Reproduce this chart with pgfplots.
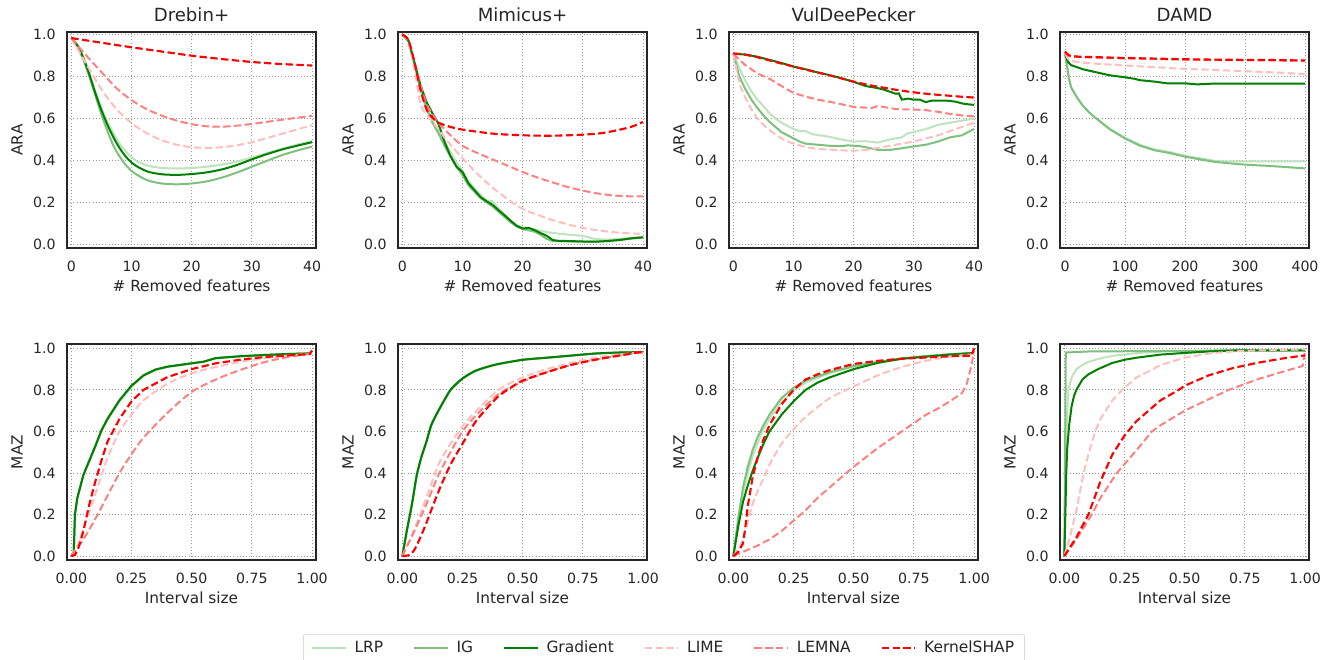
\documentclass[border=0pt]{standalone}
\usepackage{fontspec}
\setmainfont{DejaVu Sans}
\usepackage{pgfplots}
\pgfplotsset{compat=1.18}
\usepgfplotslibrary{groupplots}

\definecolor{cLRP}{RGB}{191,227,191}
\definecolor{cIG}{RGB}{125,193,125}
\definecolor{cGrad}{RGB}{0,128,0}
\definecolor{cLIME}{RGB}{255,191,191}
\definecolor{cLEMNA}{RGB}{255,128,128}
\definecolor{cSHAP}{RGB}{255,0,0}
\definecolor{txt}{RGB}{38,38,38}

\pgfplotsset{
  base/.style={
    scale only axis, width=186.75pt, height=162pt,
    axis line style={txt, line width=1pt},
    grid=major, major grid style={gray!80, dotted, line width=0.7pt},
    major tick length=0pt,
    tick label style={font=\fontsize{10.6}{12}\selectfont, text=txt},
    label style={font=\fontsize{11.5}{13}\selectfont, text=txt},
    title style={font=\fontsize{13.6}{15}\selectfont, text=txt,
      at={(axis description cs:0.5,1)}, anchor=center, yshift=6.75pt},
    /pgf/number format/assume math mode=true,
    xticklabel style={yshift=-6pt}, yticklabel style={xshift=-5pt},
    x label style={at={(axis description cs:0.5,-0.176)}, anchor=center},
    y label style={at={(axis description cs:-0.2008,0.5)}, anchor=center},
    ytick={0,0.2,0.4,0.6,0.8,1},
    yticklabel style={/pgf/number format/.cd, fixed, fixed zerofill, precision=1},
  },
  ara/.style={base, xlabel={\# Removed features}, ylabel={ARA},
    xmin=-0.72, xmax=40.66, ymin=-0.018, ymax=1.013, xtick={0,10,20,30,40}},
  maz/.style={base, xlabel={Interval size}, ylabel={MAZ},
    xmin=-0.018, xmax=1.0166, ymin=-0.019, ymax=1.021,
    xtick={0,0.25,0.5,0.75,1},
    xticklabel style={/pgf/number format/.cd, fixed, fixed zerofill, precision=2}},
  sLRP/.style={color=cLRP, line width=1.5pt},
  sIG/.style={color=cIG, line width=1.5pt},
  sGrad/.style={color=cGrad, line width=1.5pt},
  sLIME/.style={color=cLIME, line width=1.5pt, dash pattern=on 5.5pt off 2.6pt},
  sLEMNA/.style={color=cLEMNA, line width=1.5pt, dash pattern=on 5.5pt off 2.6pt},
  sSHAP/.style={color=cSHAP, line width=1.6pt, dash pattern=on 5.5pt off 2.6pt},
}

\begin{document}
\begin{tikzpicture}
\begin{groupplot}[group style={group size=4 by 2, horizontal sep=61.5pt, vertical sep=72pt}]

% ---------- row 1: ARA ----------
\nextgroupplot[ara, title={Drebin+}]
\addplot[sLRP, smooth] coordinates {(0,0.984)(1,0.95)(2,0.89)(3,0.815)(4,0.73)(5,0.65)(6,0.585)(7,0.53)(8,0.48)(9,0.445)(10,0.415)(11,0.395)(12,0.382)(13,0.373)(15,0.364)(17.5,0.362)(20,0.364)(22.5,0.37)(25,0.38)(27.5,0.395)(30,0.413)(32.5,0.435)(35,0.455)(37.5,0.475)(40,0.492)};
\addplot[sIG, smooth] coordinates {(0,0.984)(1,0.945)(2,0.88)(3,0.8)(4,0.71)(5,0.62)(6,0.54)(7,0.47)(8,0.42)(9,0.38)(10,0.35)(11,0.33)(12,0.314)(13,0.302)(15,0.29)(17.5,0.286)(20,0.29)(22.5,0.3)(25,0.318)(27.5,0.342)(30,0.37)(32.5,0.398)(35,0.425)(37.5,0.447)(40,0.466)};
\addplot[sGrad, smooth] coordinates {(0,0.984)(1,0.95)(2,0.89)(3,0.81)(4,0.72)(5,0.64)(6,0.57)(7,0.51)(8,0.46)(9,0.42)(10,0.39)(11,0.37)(12,0.355)(13,0.344)(15,0.334)(17.5,0.331)(20,0.335)(22.5,0.343)(25,0.357)(27.5,0.378)(30,0.405)(32.5,0.43)(35,0.452)(37.5,0.47)(40,0.487)};
\addplot[sLIME, smooth] coordinates {(0,0.984)(2.5,0.86)(5,0.74)(7.5,0.645)(10,0.578)(12.5,0.53)(15,0.497)(17.5,0.475)(20,0.463)(22.5,0.46)(25,0.463)(27.5,0.472)(30,0.487)(35,0.527)(40,0.568)};
\addplot[sLEMNA, smooth] coordinates {(0,0.984)(2.5,0.9)(5,0.822)(7.5,0.745)(10,0.688)(12.5,0.645)(15,0.614)(17.5,0.59)(20,0.573)(22.5,0.563)(25,0.561)(27.5,0.566)(30,0.574)(35,0.594)(40,0.613)};
\addplot[sSHAP, smooth] coordinates {(0,0.984)(5,0.962)(10,0.940)(15,0.920)(20,0.900)(25,0.884)(30,0.870)(35,0.860)(40,0.853)};

\nextgroupplot[ara, title={Mimicus+}]
\addplot[sLRP] coordinates {(0,1.0)(1,0.97)(2,0.86)(3,0.75)(4,0.66)(5,0.59)(6,0.54)(7,0.49)(8,0.44)(9,0.39)(10,0.35)(11,0.3)(12,0.265)(13,0.235)(14,0.21)(15,0.205)(16,0.17)(17,0.14)(18,0.11)(19,0.09)(20,0.08)(22,0.07)(24,0.058)(26,0.05)(28,0.045)(30,0.04)(32,0.025)(34,0.022)(36,0.025)(38,0.03)(40,0.035)};
\addplot[sIG] coordinates {(0,1.0)(1,0.97)(2,0.86)(3,0.74)(4,0.65)(5,0.58)(6,0.53)(7,0.47)(8,0.42)(9,0.37)(10,0.33)(11,0.28)(12,0.25)(13,0.22)(14,0.2)(15,0.18)(16,0.155)(17,0.13)(18,0.105)(19,0.085)(20,0.072)(22,0.06)(23,0.045)(24,0.025)(25,0.015)(28,0.013)(30,0.012)(32,0.012)(34,0.015)(36,0.02)(38,0.027)(40,0.032)};
\addplot[sGrad] coordinates {(0,1.0)(1,0.975)(2,0.87)(3,0.76)(4,0.68)(5,0.625)(6,0.575)(7,0.49)(8,0.42)(9,0.37)(10,0.345)(11,0.29)(12,0.258)(13,0.225)(14,0.205)(15,0.188)(16,0.162)(17,0.138)(18,0.112)(19,0.088)(20,0.075)(21,0.078)(22,0.067)(23,0.053)(24,0.04)(25,0.02)(26,0.016)(28,0.015)(30,0.013)(32,0.012)(34,0.015)(36,0.02)(38,0.028)(40,0.033)};
\addplot[sLIME, smooth] coordinates {(0,1.0)(1,0.97)(2,0.84)(3,0.67)(4,0.62)(5,0.585)(6,0.55)(7,0.51)(8,0.475)(10,0.41)(12.5,0.335)(15,0.27)(17.5,0.215)(20,0.168)(22.5,0.14)(25,0.115)(27.5,0.095)(30,0.078)(32.5,0.066)(35,0.058)(37.5,0.052)(40,0.05)};
\addplot[sLEMNA, smooth] coordinates {(0,1.0)(1,0.97)(2,0.87)(3,0.76)(4,0.67)(5,0.62)(6,0.58)(8,0.52)(10,0.47)(12.5,0.435)(15,0.405)(17.5,0.375)(20,0.345)(22.5,0.318)(25,0.295)(27.5,0.273)(30,0.256)(32.5,0.242)(35,0.233)(37.5,0.229)(40,0.229)};
\addplot[sSHAP, smooth] coordinates {(0,1.0)(1,0.975)(2,0.87)(3,0.74)(4,0.645)(5,0.605)(6,0.58)(8,0.56)(10,0.547)(15,0.528)(20,0.52)(25,0.518)(30,0.523)(33,0.53)(35,0.54)(38,0.56)(40,0.584)};

\nextgroupplot[ara, title={VulDeePecker}]
\addplot[sLRP] coordinates {(0,0.91)(1,0.84)(2,0.78)(3,0.73)(4,0.69)(5,0.66)(6,0.625)(7,0.6)(8,0.58)(9,0.565)(10,0.55)(11,0.54)(12,0.54)(13,0.527)(14,0.52)(15,0.518)(16,0.512)(18,0.5)(20,0.49)(22,0.492)(24,0.485)(26,0.5)(28,0.51)(29,0.53)(30,0.535)(32,0.55)(34,0.57)(36,0.58)(38,0.59)(40,0.60)};
\addplot[sIG] coordinates {(0,0.91)(1,0.8)(2,0.74)(3,0.69)(4,0.65)(5,0.615)(6,0.585)(7,0.56)(8,0.535)(9,0.52)(10,0.505)(11,0.49)(12,0.48)(14,0.475)(16,0.47)(18,0.468)(19,0.472)(21,0.468)(22,0.463)(24,0.45)(26,0.45)(28,0.458)(30,0.467)(32,0.475)(34,0.49)(36,0.51)(37,0.515)(38,0.52)(39,0.535)(40,0.55)};
\addplot[sGrad] coordinates {(0,0.91)(2,0.905)(4,0.895)(6,0.88)(8,0.865)(10,0.848)(12,0.835)(14,0.82)(16,0.807)(18,0.792)(20,0.775)(21,0.765)(22,0.755)(23,0.75)(24,0.745)(25,0.738)(26,0.728)(27,0.718)(27.5,0.72)(28,0.69)(29,0.695)(30,0.69)(31,0.69)(32,0.678)(33,0.686)(34,0.686)(35,0.686)(36,0.684)(37,0.68)(38,0.672)(39,0.668)(40,0.665)};
\addplot[sLIME, smooth] coordinates {(0,0.91)(1,0.77)(2,0.7)(3,0.645)(4,0.6)(5,0.57)(6,0.545)(8,0.505)(10,0.48)(12,0.465)(14,0.455)(16,0.452)(18,0.448)(20,0.447)(22,0.45)(24,0.46)(26,0.47)(28,0.48)(30,0.49)(32,0.505)(34,0.52)(36,0.54)(38,0.56)(40,0.58)};
\addplot[sLEMNA] coordinates {(0,0.91)(1,0.88)(2,0.855)(4,0.815)(6,0.79)(8,0.755)(10,0.722)(12,0.705)(14,0.69)(16,0.68)(18,0.668)(20,0.655)(22,0.652)(23,0.65)(24,0.66)(25,0.655)(27,0.645)(30,0.643)(32,0.64)(34,0.632)(36,0.622)(38,0.615)(40,0.61)};
\addplot[sSHAP, smooth] coordinates {(0,0.91)(2,0.905)(5,0.885)(7.5,0.866)(10,0.848)(12.5,0.83)(15,0.813)(17.5,0.795)(20,0.776)(22.5,0.76)(25,0.747)(27.5,0.735)(30,0.725)(32.5,0.717)(35,0.711)(37.5,0.705)(40,0.70)};

\nextgroupplot[ara, title={DAMD}, xmin=-8.3, xmax=406.7, xtick={0,100,200,300,400}]
\addplot[sLRP] coordinates {(0,0.91)(3,0.86)(6,0.8)(10,0.75)(20,0.70)(30,0.66)(40,0.63)(50,0.605)(75,0.55)(100,0.508)(125,0.475)(150,0.452)(175,0.44)(200,0.422)(225,0.41)(250,0.398)(260,0.396)(300,0.396)(400,0.396)};
\addplot[sIG] coordinates {(0,0.91)(3,0.86)(6,0.8)(10,0.75)(20,0.70)(30,0.66)(40,0.63)(50,0.605)(75,0.548)(100,0.505)(125,0.47)(150,0.448)(175,0.435)(200,0.418)(225,0.405)(250,0.393)(275,0.386)(300,0.38)(350,0.372)(400,0.362)};
\addplot[sGrad] coordinates {(0,0.91)(5,0.87)(10,0.855)(20,0.845)(30,0.835)(50,0.822)(75,0.806)(100,0.797)(115,0.79)(125,0.783)(150,0.776)(170,0.768)(200,0.768)(220,0.763)(250,0.767)(300,0.767)(400,0.766)};
\addplot[sLIME] coordinates {(0,0.91)(5,0.885)(10,0.875)(25,0.868)(50,0.862)(100,0.853)(150,0.845)(200,0.837)(250,0.832)(300,0.826)(350,0.82)(400,0.812)};
\addplot[sLEMNA] coordinates {(0,0.915)(5,0.9)(10,0.895)(25,0.893)(50,0.891)(100,0.887)(150,0.884)(200,0.881)(250,0.879)(300,0.878)(350,0.877)(400,0.876)};
\addplot[sSHAP] coordinates {(0,0.92)(5,0.905)(10,0.898)(25,0.895)(50,0.893)(100,0.889)(150,0.886)(200,0.883)(250,0.881)(300,0.880)(350,0.879)(400,0.877)};

% ---------- row 2: MAZ ----------
\nextgroupplot[maz, legend columns=6,
  legend style={at={(2.3976,-0.3426)}, anchor=north, draw=black!20, rounded corners=2pt,
    font=\fontsize{11.6}{13}\selectfont, text=txt, inner xsep=6pt, inner ysep=3pt,
    /tikz/every odd column/.append style={column sep=4pt},
    /tikz/every even column/.append style={column sep=20.5pt}},
  legend cell align=left,
  legend image code/.code={\draw[#1] (0pt,0pt) -- (25pt,0pt);}]
\addplot[sLRP] coordinates {(0,0)(0.01,0.02)(0.015,0.2)(0.025,0.28)(0.05,0.39)(0.075,0.46)(0.1,0.53)(0.125,0.6)(0.15,0.655)(0.2,0.745)(0.25,0.815)(0.3,0.868)(0.35,0.896)(0.4,0.91)(0.5,0.927)(0.55,0.935)(0.6,0.952)(0.7,0.961)(0.8,0.967)(0.9,0.972)(1,0.976)};
\addplot[sIG] coordinates {(0,0)(0.01,0.02)(0.015,0.2)(0.025,0.28)(0.05,0.39)(0.075,0.46)(0.1,0.53)(0.125,0.605)(0.15,0.66)(0.2,0.75)(0.25,0.82)(0.3,0.87)(0.35,0.898)(0.4,0.912)(0.5,0.928)(0.55,0.936)(0.6,0.953)(0.7,0.962)(0.8,0.968)(0.9,0.973)(1,0.976)};
\addplot[sGrad] coordinates {(0,0)(0.01,0.02)(0.015,0.2)(0.025,0.28)(0.05,0.39)(0.075,0.46)(0.1,0.53)(0.125,0.605)(0.15,0.66)(0.2,0.75)(0.25,0.82)(0.3,0.87)(0.35,0.898)(0.4,0.912)(0.5,0.928)(0.55,0.936)(0.6,0.953)(0.7,0.962)(0.8,0.968)(0.9,0.973)(1,0.976)};
\addplot[sLIME, smooth] coordinates {(0,0)(0.03,0.06)(0.05,0.13)(0.1,0.3)(0.15,0.47)(0.2,0.6)(0.25,0.68)(0.3,0.75)(0.4,0.83)(0.5,0.88)(0.6,0.91)(0.7,0.935)(0.8,0.952)(0.9,0.965)(1,0.975)};
\addplot[sLEMNA, smooth] coordinates {(0,0)(0.05,0.08)(0.1,0.18)(0.15,0.29)(0.2,0.4)(0.25,0.49)(0.3,0.57)(0.4,0.69)(0.5,0.79)(0.6,0.85)(0.7,0.895)(0.8,0.933)(0.9,0.958)(1,0.975)};
\addplot[sSHAP] coordinates {(0,0)(0.015,0.005)(0.03,0.04)(0.05,0.12)(0.075,0.25)(0.1,0.36)(0.125,0.46)(0.15,0.55)(0.2,0.66)(0.25,0.745)(0.3,0.8)(0.4,0.862)(0.5,0.9)(0.6,0.928)(0.7,0.945)(0.8,0.958)(0.9,0.966)(0.99,0.972)(1,0.99)};
\legend{LRP,IG,Gradient,LIME,LEMNA,KernelSHAP}

\nextgroupplot[maz]
\addplot[sLRP] coordinates {(0,0)(0.02,0.13)(0.04,0.25)(0.06,0.39)(0.08,0.48)(0.1,0.55)(0.12,0.63)(0.15,0.7)(0.2,0.8)(0.25,0.855)(0.3,0.89)(0.35,0.91)(0.4,0.925)(0.5,0.945)(0.6,0.955)(0.7,0.965)(0.8,0.975)(0.9,0.98)(1,0.982)};
\addplot[sIG] coordinates {(0,0)(0.02,0.13)(0.04,0.25)(0.06,0.39)(0.08,0.48)(0.1,0.55)(0.12,0.63)(0.15,0.7)(0.2,0.8)(0.25,0.855)(0.3,0.89)(0.35,0.91)(0.4,0.925)(0.5,0.945)(0.6,0.955)(0.7,0.965)(0.8,0.975)(0.9,0.98)(1,0.982)};
\addplot[sGrad, smooth] coordinates {(0,0)(0.02,0.13)(0.04,0.25)(0.06,0.39)(0.08,0.48)(0.1,0.55)(0.12,0.63)(0.15,0.7)(0.2,0.8)(0.25,0.855)(0.3,0.89)(0.35,0.91)(0.4,0.925)(0.5,0.945)(0.6,0.955)(0.7,0.965)(0.8,0.975)(0.9,0.98)(1,0.982)};
\addplot[sLIME, smooth] coordinates {(0,0)(0.05,0.13)(0.1,0.28)(0.15,0.44)(0.2,0.54)(0.25,0.625)(0.3,0.69)(0.4,0.8)(0.5,0.86)(0.6,0.9)(0.7,0.93)(0.8,0.955)(0.9,0.97)(1,0.982)};
\addplot[sLEMNA, smooth] coordinates {(0,0)(0.05,0.12)(0.1,0.25)(0.15,0.39)(0.2,0.5)(0.25,0.6)(0.3,0.67)(0.4,0.78)(0.5,0.84)(0.6,0.885)(0.7,0.92)(0.8,0.945)(0.9,0.965)(1,0.98)};
\addplot[sSHAP, smooth] coordinates {(0,0)(0.03,0.005)(0.05,0.03)(0.075,0.09)(0.1,0.16)(0.15,0.31)(0.2,0.44)(0.25,0.54)(0.3,0.64)(0.35,0.71)(0.4,0.77)(0.45,0.81)(0.5,0.845)(0.6,0.885)(0.7,0.92)(0.8,0.945)(0.9,0.965)(1,0.985)};

\nextgroupplot[maz]
\addplot[sLRP] coordinates {(0,0)(0.02,0.16)(0.04,0.3)(0.06,0.4)(0.08,0.48)(0.1,0.54)(0.125,0.61)(0.15,0.66)(0.2,0.74)(0.25,0.795)(0.3,0.835)(0.4,0.88)(0.5,0.912)(0.6,0.933)(0.7,0.95)(0.8,0.962)(0.9,0.971)(1,0.978)};
\addplot[sIG] coordinates {(0,0)(0.02,0.18)(0.04,0.33)(0.06,0.43)(0.08,0.51)(0.1,0.57)(0.125,0.63)(0.15,0.68)(0.2,0.76)(0.25,0.81)(0.3,0.845)(0.4,0.885)(0.5,0.915)(0.6,0.935)(0.7,0.952)(0.8,0.963)(0.9,0.972)(1,0.978)};
\addplot[sGrad] coordinates {(0,0)(0.02,0.14)(0.04,0.26)(0.06,0.34)(0.08,0.41)(0.1,0.47)(0.125,0.54)(0.15,0.6)(0.2,0.68)(0.25,0.745)(0.3,0.8)(0.35,0.835)(0.4,0.86)(0.5,0.9)(0.6,0.93)(0.7,0.95)(0.8,0.96)(0.9,0.97)(0.99,0.977)(1,0.978)};
\addplot[sLIME, smooth] coordinates {(0,0)(0.03,0.05)(0.05,0.12)(0.08,0.25)(0.1,0.31)(0.135,0.4)(0.15,0.44)(0.2,0.54)(0.25,0.61)(0.3,0.67)(0.4,0.76)(0.47,0.8)(0.6,0.87)(0.7,0.91)(0.8,0.94)(0.9,0.96)(1,0.972)};
\addplot[sLEMNA] coordinates {(0,0)(0.05,0.025)(0.1,0.05)(0.15,0.08)(0.2,0.12)(0.25,0.17)(0.3,0.22)(0.35,0.28)(0.4,0.33)(0.45,0.38)(0.5,0.43)(0.55,0.475)(0.6,0.52)(0.65,0.56)(0.7,0.6)(0.75,0.64)(0.8,0.68)(0.85,0.71)(0.9,0.745)(0.95,0.785)(0.97,0.83)(0.99,0.92)(1,0.99)};
\addplot[sSHAP] coordinates {(0,0)(0.02,0.02)(0.04,0.06)(0.05,0.14)(0.06,0.24)(0.08,0.38)(0.1,0.47)(0.125,0.56)(0.15,0.63)(0.2,0.73)(0.25,0.8)(0.3,0.85)(0.35,0.875)(0.4,0.895)(0.5,0.925)(0.6,0.94)(0.7,0.95)(0.8,0.956)(0.9,0.962)(0.99,0.965)(1,1.0)};

\nextgroupplot[maz]
\addplot[sLRP] coordinates {(0,0)(0.004,0.3)(0.008,0.55)(0.012,0.7)(0.017,0.8)(0.03,0.86)(0.05,0.9)(0.075,0.92)(0.1,0.935)(0.15,0.952)(0.2,0.964)(0.3,0.977)(0.4,0.984)(0.6,0.99)(1,0.99)};
\addplot[sIG] coordinates {(0,0)(0.003,0.5)(0.006,0.98)(0.1,0.985)(0.5,0.988)(1,0.99)};
\addplot[sGrad] coordinates {(0,0)(0.004,0.2)(0.008,0.4)(0.012,0.52)(0.02,0.63)(0.03,0.72)(0.04,0.77)(0.05,0.8)(0.075,0.85)(0.1,0.875)(0.14,0.9)(0.2,0.93)(0.25,0.945)(0.3,0.955)(0.4,0.97)(0.5,0.978)(0.6,0.985)(0.7,0.99)(1,0.99)};
\addplot[sLIME] coordinates {(0,0)(0.025,0.1)(0.05,0.22)(0.08,0.4)(0.1,0.49)(0.128,0.6)(0.15,0.66)(0.2,0.75)(0.24,0.8)(0.3,0.86)(0.4,0.92)(0.5,0.955)(0.6,0.975)(0.7,0.985)(0.8,0.99)(1,0.995)};
\addplot[sLEMNA] coordinates {(0,0)(0.05,0.08)(0.114,0.2)(0.15,0.28)(0.218,0.4)(0.3,0.51)(0.364,0.6)(0.4,0.63)(0.5,0.7)(0.6,0.755)(0.683,0.8)(0.8,0.85)(0.9,0.885)(0.99,0.915)(1,0.99)};
\addplot[sSHAP] coordinates {(0,0)(0.05,0.09)(0.1,0.2)(0.15,0.36)(0.2,0.49)(0.25,0.58)(0.3,0.65)(0.4,0.75)(0.475,0.8)(0.5,0.82)(0.6,0.87)(0.7,0.905)(0.8,0.93)(0.9,0.95)(0.99,0.965)(1,0.965)};
\end{groupplot}
\pgfresetboundingbox
\useasboundingbox ([shift={(-50.25pt,24pt)}]group c1r1.north west) rectangle ++(1003.5pt,-495pt);
\end{tikzpicture}
\end{document}
